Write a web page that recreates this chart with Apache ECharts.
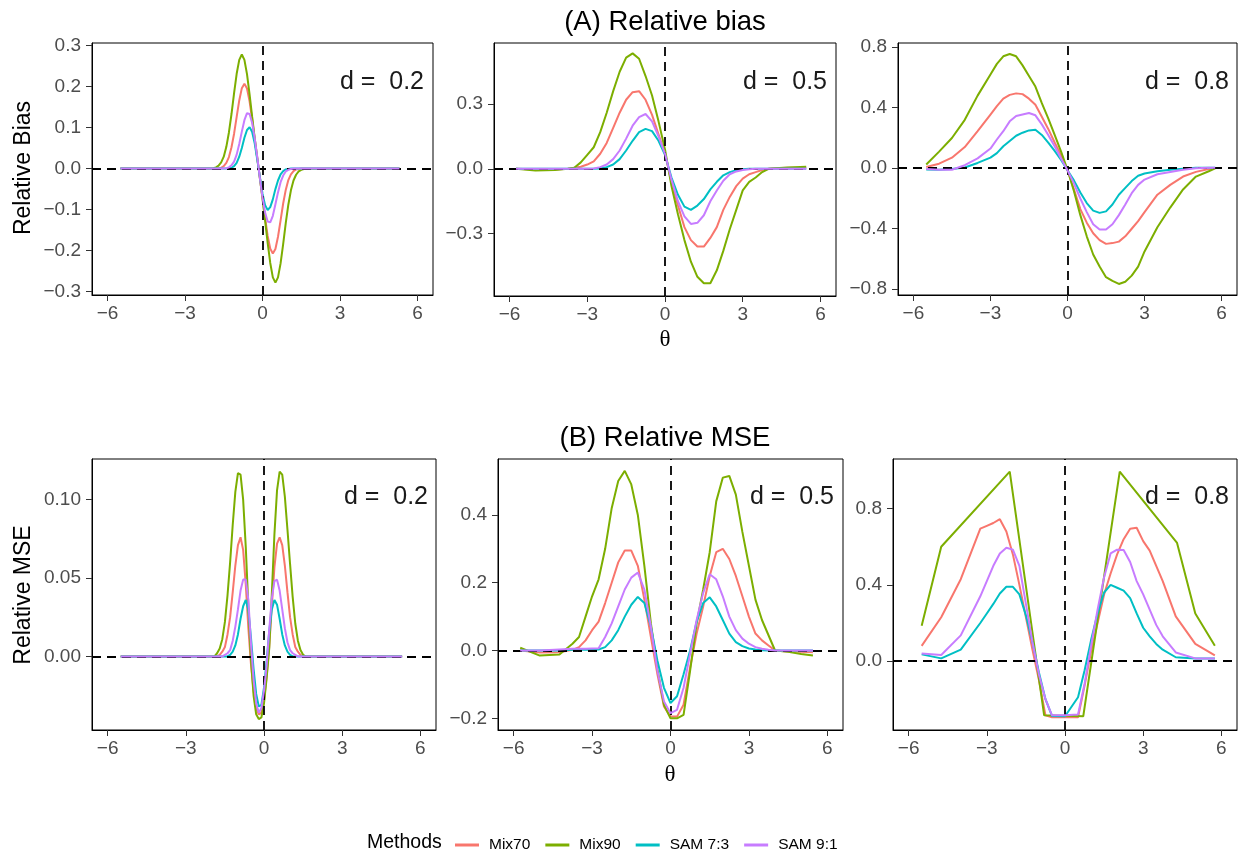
<!DOCTYPE html>
<html><head><meta charset="utf-8">
<script src="https://cdn.jsdelivr.net/npm/echarts@6/dist/echarts.min.js"></script>
<style>html,body{margin:0;padding:0;background:#fff}#c{width:1238px;height:857px}</style>
</head><body><div id="c"></div>
<script>
// ---------- data ----------
const methods = ['Mix70', 'Mix90', 'SAM 7:3', 'SAM 9:1'];
const colors = ['#F8766D', '#7CAE00', '#00BFC4', '#C77CFF'];
const xTicks = [-6, -3, 0, 3, 6];
const xTickLabels = ['\u22126', '\u22123', '0', '3', '6'];

// (A) Relative bias, d = 0.2
const thetaA1 = [-5.5,-2.0,-1.9,-1.8,-1.7,-1.6,-1.5,-1.4,-1.3,-1.2,-1.1,-1.0,-0.9,-0.8,-0.7,-0.6,-0.5,-0.4,-0.3,-0.2,-0.1,0,0.1,0.2,0.3,0.4,0.5,0.6,0.7,0.8,0.9,1.0,1.1,1.2,1.3,1.4,1.5,1.6,5.3];
const biasD02Mix70 = [0,0,0,0,0.001,0.002,0.006,0.014,0.028,0.052,0.085,0.126,0.166,0.196,0.207,0.195,0.164,0.120,0.071,0.024,-0.024,-0.071,-0.120,-0.164,-0.195,-0.207,-0.196,-0.166,-0.126,-0.085,-0.052,-0.028,-0.014,-0.006,-0.002,-0.001,0,0,0];
const biasD02Mix90 = [0,0,0.001,0.003,0.007,0.015,0.029,0.053,0.088,0.133,0.184,0.231,0.265,0.278,0.265,0.230,0.181,0.126,0.073,0.024,-0.024,-0.073,-0.126,-0.181,-0.230,-0.265,-0.278,-0.265,-0.231,-0.184,-0.133,-0.088,-0.053,-0.029,-0.015,-0.007,-0.003,-0.001,0];
const biasD02Sam73 = [0,0,0,0,0,0,0,0,0.001,0.002,0.006,0.014,0.029,0.050,0.075,0.094,0.101,0.089,0.061,0.021,-0.021,-0.061,-0.089,-0.101,-0.094,-0.075,-0.050,-0.029,-0.014,-0.006,-0.002,-0.001,0,0,0,0,0,0,0];
const biasD02Sam91 = [0,0,0,0,0,0,0,0.001,0.003,0.008,0.017,0.034,0.060,0.090,0.118,0.135,0.133,0.111,0.073,0.027,-0.024,-0.070,-0.107,-0.129,-0.131,-0.115,-0.087,-0.058,-0.033,-0.017,-0.007,-0.003,-0.001,0,0,0,0,0,0];

// (A) Relative bias, d = 0.5
const thetaA2 = [-5.75,-5.0,-4.25,-3.75,-3.5,-3.25,-3.0,-2.75,-2.5,-2.25,-2.0,-1.75,-1.5,-1.25,-1.0,-0.75,-0.5,-0.25,0,0.25,0.5,0.75,1.0,1.25,1.5,1.75,2.0,2.25,2.5,2.75,3.0,3.25,3.5,3.75,4.0,4.25,4.75,5.45];
const biasD05Mix70 = [0,-0.003,-0.003,0,0.005,0.01,0.02,0.035,0.07,0.12,0.19,0.26,0.32,0.355,0.36,0.32,0.25,0.16,0.07,-0.06,-0.17,-0.27,-0.33,-0.36,-0.36,-0.32,-0.27,-0.19,-0.13,-0.08,-0.045,-0.025,-0.015,-0.005,0,0.003,0.005,0.005];
const biasD05Mix90 = [0,-0.008,-0.005,0,0.005,0.03,0.065,0.1,0.17,0.26,0.36,0.45,0.515,0.535,0.51,0.43,0.34,0.22,0.09,-0.08,-0.21,-0.33,-0.43,-0.5,-0.53,-0.53,-0.47,-0.38,-0.28,-0.19,-0.1,-0.06,-0.04,-0.015,0,0.003,0.006,0.01];
const biasD05Sam73 = [0,0,0,0,0,0,0,0,0.002,0.008,0.02,0.045,0.085,0.13,0.17,0.185,0.175,0.13,0.065,-0.04,-0.12,-0.175,-0.19,-0.17,-0.14,-0.095,-0.06,-0.03,-0.015,-0.006,-0.002,0,0,0,0,0,0,0];
const biasD05Sam91 = [0,0,0,0,0,0,0,0.002,0.008,0.02,0.045,0.085,0.14,0.2,0.24,0.254,0.22,0.15,0.07,-0.05,-0.15,-0.22,-0.255,-0.25,-0.215,-0.15,-0.1,-0.055,-0.025,-0.012,-0.005,-0.002,0,0,0,0,0,0];

// (A) Relative bias, d = 0.8
const thetaA3 = [-5.5,-5.0,-4.5,-4.0,-3.5,-3.0,-2.75,-2.5,-2.25,-2.0,-1.75,-1.5,-1.25,-1.0,-0.75,-0.5,-0.25,0,0.25,0.5,0.75,1.0,1.25,1.5,1.75,2.0,2.25,2.5,2.75,3.0,3.5,4.0,4.5,5.0,5.5,5.75];
const biasD08Mix70 = [0.008,0.03,0.07,0.14,0.245,0.355,0.41,0.46,0.485,0.495,0.49,0.46,0.42,0.34,0.26,0.17,0.085,-0.013,-0.14,-0.27,-0.36,-0.43,-0.475,-0.5,-0.495,-0.485,-0.45,-0.4,-0.35,-0.29,-0.175,-0.11,-0.055,-0.024,-0.005,0.002];
const biasD08Mix90 = [0.025,0.11,0.2,0.32,0.48,0.62,0.69,0.74,0.755,0.74,0.68,0.61,0.54,0.43,0.33,0.22,0.11,-0.01,-0.15,-0.31,-0.45,-0.57,-0.65,-0.72,-0.745,-0.765,-0.75,-0.71,-0.65,-0.55,-0.39,-0.26,-0.14,-0.055,-0.02,0];
const biasD08Sam73 = [-0.008,-0.01,-0.005,0.005,0.035,0.07,0.1,0.145,0.18,0.215,0.235,0.25,0.255,0.22,0.17,0.115,0.055,-0.013,-0.08,-0.16,-0.23,-0.28,-0.295,-0.285,-0.24,-0.175,-0.13,-0.085,-0.05,-0.035,-0.02,-0.01,-0.003,0.003,0.004,0.004];
const biasD08Sam91 = [-0.005,-0.01,-0.01,0.02,0.065,0.13,0.19,0.245,0.31,0.345,0.355,0.365,0.35,0.29,0.22,0.145,0.065,-0.013,-0.1,-0.2,-0.29,-0.37,-0.405,-0.405,-0.37,-0.31,-0.24,-0.165,-0.11,-0.075,-0.04,-0.025,-0.01,0,0.003,0.004];

// (B) Relative MSE, d = 0.2
const thetaB1 = [-5.5,-2.0,-1.9,-1.8,-1.7,-1.6,-1.5,-1.4,-1.3,-1.2,-1.1,-1.0,-0.9,-0.8,-0.7,-0.6,-0.5,-0.4,-0.3,-0.2,-0.1,0,0.1,0.2,0.3,0.4,0.5,0.6,0.7,0.8,0.9,1.0,1.1,1.2,1.3,1.4,1.5,1.6,5.3];
const mseD02Mix70 = [0,0,0,0,0.001,0.003,0.006,0.014,0.025,0.041,0.058,0.071,0.076,0.068,0.046,0.018,-0.005,-0.022,-0.033,-0.037,-0.036,-0.028,-0.013,0.006,0.032,0.057,0.072,0.076,0.071,0.058,0.041,0.025,0.014,0.006,0.003,0.001,0,0,0];
const mseD02Mix90 = [0,0,0,0.002,0.005,0.011,0.022,0.039,0.060,0.084,0.105,0.117,0.116,0.100,0.070,0.032,-0.002,-0.025,-0.037,-0.040,-0.039,-0.030,-0.014,0.005,0.040,0.078,0.106,0.118,0.116,0.102,0.081,0.059,0.038,0.021,0.010,0.004,0.001,0,0];
const mseD02Sam73 = [0,0,0,0,0,0,0,0,0.001,0.003,0.007,0.014,0.024,0.032,0.036,0.030,0.012,-0.008,-0.024,-0.032,-0.031,-0.020,-0.003,0.016,0.030,0.036,0.033,0.024,0.014,0.007,0.003,0.001,0,0,0,0,0,0,0];
const mseD02Sam91 = [0,0,0,0,0,0,0.001,0.002,0.004,0.010,0.019,0.030,0.042,0.049,0.049,0.036,0.008,-0.015,-0.030,-0.036,-0.033,-0.022,-0.006,0.017,0.037,0.048,0.049,0.042,0.030,0.018,0.009,0.004,0.002,0.001,0,0,0,0,0];

// (B) Relative MSE, d = 0.5
const thetaB2 = [-5.75,-5.0,-4.25,-3.75,-3.5,-3.25,-3.0,-2.75,-2.5,-2.25,-2.0,-1.75,-1.5,-1.25,-1.0,-0.75,-0.5,-0.25,0,0.25,0.5,0.75,1.0,1.25,1.5,1.75,2.0,2.25,2.5,2.75,3.0,3.25,3.5,3.75,4.0,4.5,5.0,5.45];
const mseD05Mix70 = [0,-0.006,-0.005,0.002,0.01,0.03,0.06,0.085,0.14,0.2,0.26,0.295,0.295,0.25,0.15,0.04,-0.07,-0.165,-0.195,-0.195,-0.16,-0.05,0.05,0.13,0.22,0.29,0.3,0.27,0.22,0.16,0.1,0.05,0.03,0.015,0,-0.003,-0.004,-0.005];
const mseD05Mix90 = [0.008,-0.015,-0.012,0.02,0.04,0.1,0.16,0.21,0.3,0.42,0.5,0.53,0.49,0.4,0.25,0.08,-0.055,-0.16,-0.2,-0.2,-0.19,-0.06,0.08,0.18,0.29,0.44,0.51,0.515,0.46,0.35,0.25,0.15,0.09,0.045,0,-0.004,-0.01,-0.015];
const mseD05Sam73 = [0,0,0,0.002,0.002,0.002,0.002,0.003,0.01,0.03,0.06,0.1,0.135,0.158,0.14,0.07,-0.03,-0.11,-0.155,-0.135,-0.07,0,0.085,0.14,0.157,0.13,0.09,0.05,0.025,0.013,0.006,0.003,0.001,0,0,0,0,0];
const mseD05Sam91 = [0,0,0.003,0.005,0.005,0.005,0.006,0.007,0.04,0.08,0.13,0.18,0.215,0.23,0.18,0.07,-0.06,-0.15,-0.185,-0.175,-0.11,-0.01,0.09,0.17,0.225,0.21,0.16,0.1,0.06,0.035,0.02,0.01,0.005,0.002,0,0,0,0];

// (B) Relative MSE, d = 0.8
const thetaB3 = [-5.5,-4.75,-4.0,-3.25,-3.0,-2.75,-2.5,-2.25,-2.0,-1.75,-1.5,-1.25,-1.0,-0.75,-0.5,0,0.5,0.75,1.0,1.25,1.5,1.75,2.0,2.25,2.5,2.75,3.0,3.25,3.5,3.75,4.25,5.0,5.75];
const thetaB3Mix90 = [-5.5,-4.75,-2.12,-0.8,0.7,2.1,4.3,5.0,5.75];
const mseD08Mix70 = [0.08,0.23,0.43,0.695,0.71,0.725,0.745,0.68,0.56,0.4,0.23,0.06,-0.1,-0.285,-0.295,-0.295,-0.295,-0.13,0.05,0.2,0.35,0.46,0.56,0.64,0.695,0.7,0.63,0.58,0.5,0.42,0.235,0.09,0.03];
const mseD08Mix90 = [0.185,0.6,0.995,-0.285,-0.29,0.995,0.62,0.25,0.08];
const mseD08Sam73 = [0.035,0.014,0.06,0.2,0.25,0.3,0.355,0.39,0.39,0.35,0.24,0.1,-0.06,-0.2,-0.288,-0.29,-0.19,-0.05,0.11,0.25,0.36,0.4,0.385,0.37,0.33,0.25,0.175,0.13,0.09,0.06,0.02,0.014,0.014];
const mseD08Sam91 = [0.04,0.032,0.135,0.34,0.42,0.5,0.565,0.595,0.585,0.5,0.3,0.1,-0.07,-0.2,-0.285,-0.285,-0.28,-0.12,0.08,0.27,0.44,0.565,0.585,0.583,0.52,0.42,0.35,0.27,0.19,0.13,0.045,0.014,0.014];

// y tick values / labels
const yTicksA1 = [-0.3,-0.2,-0.1,0,0.1,0.2,0.3];
const yLabelsA1 = ['\u22120.3','\u22120.2','\u22120.1','0.0','0.1','0.2','0.3'];
const yTicksA2 = [-0.3,0,0.3];
const yLabelsA2 = ['\u22120.3','0.0','0.3'];
const yTicksA3 = [-0.8,-0.4,0,0.4,0.8];
const yLabelsA3 = ['\u22120.8','\u22120.4','0.0','0.4','0.8'];
const yTicksB1 = [0,0.05,0.1];
const yLabelsB1 = ['0.00','0.05','0.10'];
const yTicksB2 = [-0.2,0,0.2,0.4];
const yLabelsB2 = ['\u22120.2','0.0','0.2','0.4'];
const yTicksB3 = [0,0.4,0.8];
const yLabelsB3 = ['0.0','0.4','0.8'];

// ---------- layout ----------
const panels = [
  {thetas:[thetaA1,thetaA1,thetaA1,thetaA1], vals:[biasD02Mix70,biasD02Mix90,biasD02Sam73,biasD02Sam91], yt:yTicksA1, yl:yLabelsA1, ymin:-0.308, ymax:0.306, label:'d =  0.2', g:{left:92,top:43,width:341,height:252}, lx:424, ly:82},
  {thetas:[thetaA2,thetaA2,thetaA2,thetaA2], vals:[biasD05Mix70,biasD05Mix90,biasD05Sam73,biasD05Sam91], yt:yTicksA2, yl:yLabelsA2, ymin:-0.589, ymax:0.583, label:'d =  0.5', g:{left:494,top:43,width:342,height:253}, lx:827, ly:82},
  {thetas:[thetaA3,thetaA3,thetaA3,thetaA3], vals:[biasD08Mix70,biasD08Mix90,biasD08Sam73,biasD08Sam91], yt:yTicksA3, yl:yLabelsA3, ymin:-0.838, ymax:0.828, label:'d =  0.8', g:{left:898,top:43,width:339,height:252}, lx:1229, ly:82},
  {thetas:[thetaB1,thetaB1,thetaB1,thetaB1], vals:[mseD02Mix70,mseD02Mix90,mseD02Sam73,mseD02Sam91], yt:yTicksB1, yl:yLabelsB1, ymin:-0.047, ymax:0.126, label:'d =  0.2', g:{left:92,top:459,width:344,height:271}, lx:428, ly:497},
  {thetas:[thetaB2,thetaB2,thetaB2,thetaB2], vals:[mseD05Mix70,mseD05Mix90,mseD05Sam73,mseD05Sam91], yt:yTicksB2, yl:yLabelsB2, ymin:-0.2345, ymax:0.565, label:'d =  0.5', g:{left:498,top:459,width:345,height:271}, lx:834, ly:497},
  {thetas:[thetaB3,thetaB3Mix90,thetaB3,thetaB3], vals:[mseD08Mix70,mseD08Mix90,mseD08Sam73,mseD08Sam91], yt:yTicksB3, yl:yLabelsB3, ymin:-0.362, ymax:1.061, label:'d =  0.8', g:{left:893,top:459,width:344,height:271}, lx:1229, ly:497}
];

const FONT = 'Liberation Sans, Arial, Helvetica, sans-serif';
function lookup(ticks, labels){
  return function(v){
    let best = 0, bd = Infinity;
    ticks.forEach((t,i)=>{ const d = Math.abs(t - v); if (d < bd){ bd = d; best = i; } });
    return labels[best];
  };
}

const grids = [], xAxes = [], yAxes = [], series = [], graphics = [];
panels.forEach((p, i) => {
  grids.push(Object.assign({show:true, borderColor:'#000', borderWidth:1, backgroundColor:'#fff'}, p.g));
  xAxes.push({
    type:'value', gridIndex:i, min:-6.6, max:6.6,
    splitLine:{show:false},
    axisLine:{show:true, onZero:false, lineStyle:{color:'#000', width:1}},
    axisTick:{show:true, length:6, customValues:xTicks, lineStyle:{color:'#333', width:1}},
    axisLabel:{show:true, customValues:xTicks, formatter:lookup(xTicks, xTickLabels), color:'#4D4D4D', fontSize:19, fontFamily:FONT, margin:9}
  });
  yAxes.push({
    type:'value', gridIndex:i, min:p.ymin, max:p.ymax,
    splitLine:{show:false},
    axisLine:{show:true, onZero:false, lineStyle:{color:'#000', width:1}},
    axisTick:{show:true, length:6, customValues:p.yt, lineStyle:{color:'#333', width:1}},
    axisLabel:{show:true, customValues:p.yt, formatter:lookup(p.yt, p.yl), color:'#4D4D4D', fontSize:19, fontFamily:FONT, margin:11}
  });
  methods.forEach((m, k) => {
    const th = p.thetas[k], vs = p.vals[k];
    const s = {
      name:m, type:'line', xAxisIndex:i, yAxisIndex:i,
      data: th.map((t, j) => [t, vs[j]]),
      showSymbol:false, symbol:'none', smooth:false,
      color:colors[k],
      lineStyle:{color:colors[k], width:2},
      itemStyle:{color:colors[k]},
      z: 2 + k, animation:false, silent:true
    };
    if (k === 3) {
      s.markLine = {
        silent:true, symbol:['none','none'], label:{show:false}, animation:false,
        lineStyle:{color:'#000', type:[9,6], width:1.8},
        emphasis:{disabled:true},
        data:[{yAxis:0},{xAxis:0}]
      };
    }
    series.push(s);
  });
  graphics.push({type:'text', x:p.lx, y:p.ly, z:100, style:{text:p.label, fill:'#1a1a1a', font:'25px ' + FONT, align:'right', verticalAlign:'middle'}});
});

graphics.push(
  {type:'text', x:665, y:22, style:{text:'(A) Relative bias', fill:'#000', font:'27.5px ' + FONT, align:'center', verticalAlign:'middle'}},
  {type:'text', x:665, y:438, style:{text:'(B) Relative MSE', fill:'#000', font:'27.5px ' + FONT, align:'center', verticalAlign:'middle'}},
  {type:'text', x:24, y:168, rotation:Math.PI/2, style:{text:'Relative Bias', fill:'#000', font:'23px ' + FONT, align:'center', verticalAlign:'middle'}},
  {type:'text', x:24, y:595, rotation:Math.PI/2, style:{text:'Relative MSE', fill:'#000', font:'23px ' + FONT, align:'center', verticalAlign:'middle'}},
  {type:'text', x:665, y:340, style:{text:'\u03b8', fill:'#000', font:'23px Liberation Serif, serif', align:'center', verticalAlign:'middle'}},
  {type:'text', x:670, y:775, style:{text:'\u03b8', fill:'#000', font:'23px Liberation Serif, serif', align:'center', verticalAlign:'middle'}},
  {type:'text', x:367, y:843, style:{text:'Methods', fill:'#000', font:'19.5px ' + FONT, align:'left', verticalAlign:'middle'}}
);

const chart = echarts.init(document.getElementById('c'), null, {renderer:'canvas'});
chart.setOption({
  animation:false,
  backgroundColor:'#fff',
  grid:grids, xAxis:xAxes, yAxis:yAxes, series:series,
  legend:{
    data:methods, left:450, top:832, orient:'horizontal',
    icon:'rect', itemWidth:24, itemHeight:3, itemGap:15,
    selectedMode:false,
    textStyle:{fontSize:15.5, fontFamily:FONT, color:'#000', padding:[0,0,0,5]}
  },
  graphic:graphics
});
</script></body></html>
